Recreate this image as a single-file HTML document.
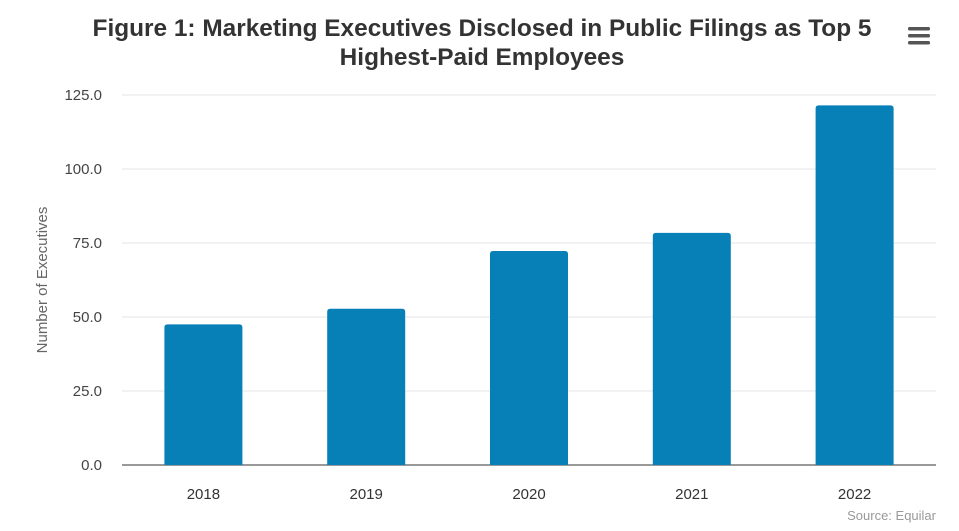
<!DOCTYPE html>
<html><head><meta charset="utf-8"><style>
body{margin:0;background:#fff;font-family:"Liberation Sans",sans-serif;}
svg{display:block}
</style></head><body>
<svg width="959" height="531">
<text x="482" y="36" text-anchor="middle" font-size="24.4" font-weight="bold" fill="#333">Figure 1: Marketing Executives Disclosed in Public Filings as Top 5</text>
<text x="482" y="65" text-anchor="middle" font-size="24.4" font-weight="bold" fill="#333">Highest-Paid Employees</text>
<g>
<rect x="908" y="27" width="22" height="3.5" rx="1.5" fill="#555"/><rect x="908" y="34" width="22" height="3.5" rx="1.5" fill="#555"/><rect x="908" y="41" width="22" height="3.5" rx="1.5" fill="#555"/>
</g>
<g id="grid"></g><g id="bars"></g><g id="labels"></g>
<text transform="translate(47,280) rotate(-90)" text-anchor="middle" font-size="15" fill="#666">Number of Executives</text>
<text x="936" y="520" text-anchor="end" font-size="13" fill="#999">Source: Equilar</text>
</svg>
<script>
const categories=["2018","2019","2020","2021","2022"];
const values=[47.5,52.8,72.3,78.4,121.5];
const ticks=[0,25,50,75,100,125];
const X0=122,X1=936,Y0=465,Y1=95,MAX=125;
const ns="http://www.w3.org/2000/svg";
const y=v=>Y0-(v/MAX)*(Y0-Y1);
const band=(X1-X0)/categories.length;
const x=i=>X0+band*(i+0.5);
function mk(t,a,p){const e=document.createElementNS(ns,t);for(const k in a)e.setAttribute(k,a[k]);p.appendChild(e);return e;}
const g=document.getElementById('grid'),b=document.getElementById('bars'),l=document.getElementById('labels');
ticks.forEach(t=>{
 const ln=mk('line',{x1:X0,x2:X1,y1:y(t),y2:y(t),stroke:t===0?'#333':'#e6e6e6','stroke-width':1},g);
 
 
 const tx=mk('text',{x:102,y:y(t)+5,'text-anchor':'end','font-size':15,fill:'#444'},l);
 tx.textContent=t.toFixed(1);
 
 
});
const bw=78;
values.forEach((v,i)=>{
 const r=mk('path',{d:`M${x(i)-bw/2},${Y0} V${y(v)+3} Q${x(i)-bw/2},${y(v)} ${x(i)-bw/2+3},${y(v)} H${x(i)+bw/2-3} Q${x(i)+bw/2},${y(v)} ${x(i)+bw/2},${y(v)+3} V${Y0} Z`,fill:'#0780b7'},b);
 
 
 const tx=mk('text',{x:x(i),y:499,'text-anchor':'middle','font-size':15,fill:'#333'},l);
 tx.textContent=categories[i];
 
 
});
</script>
</body></html>
